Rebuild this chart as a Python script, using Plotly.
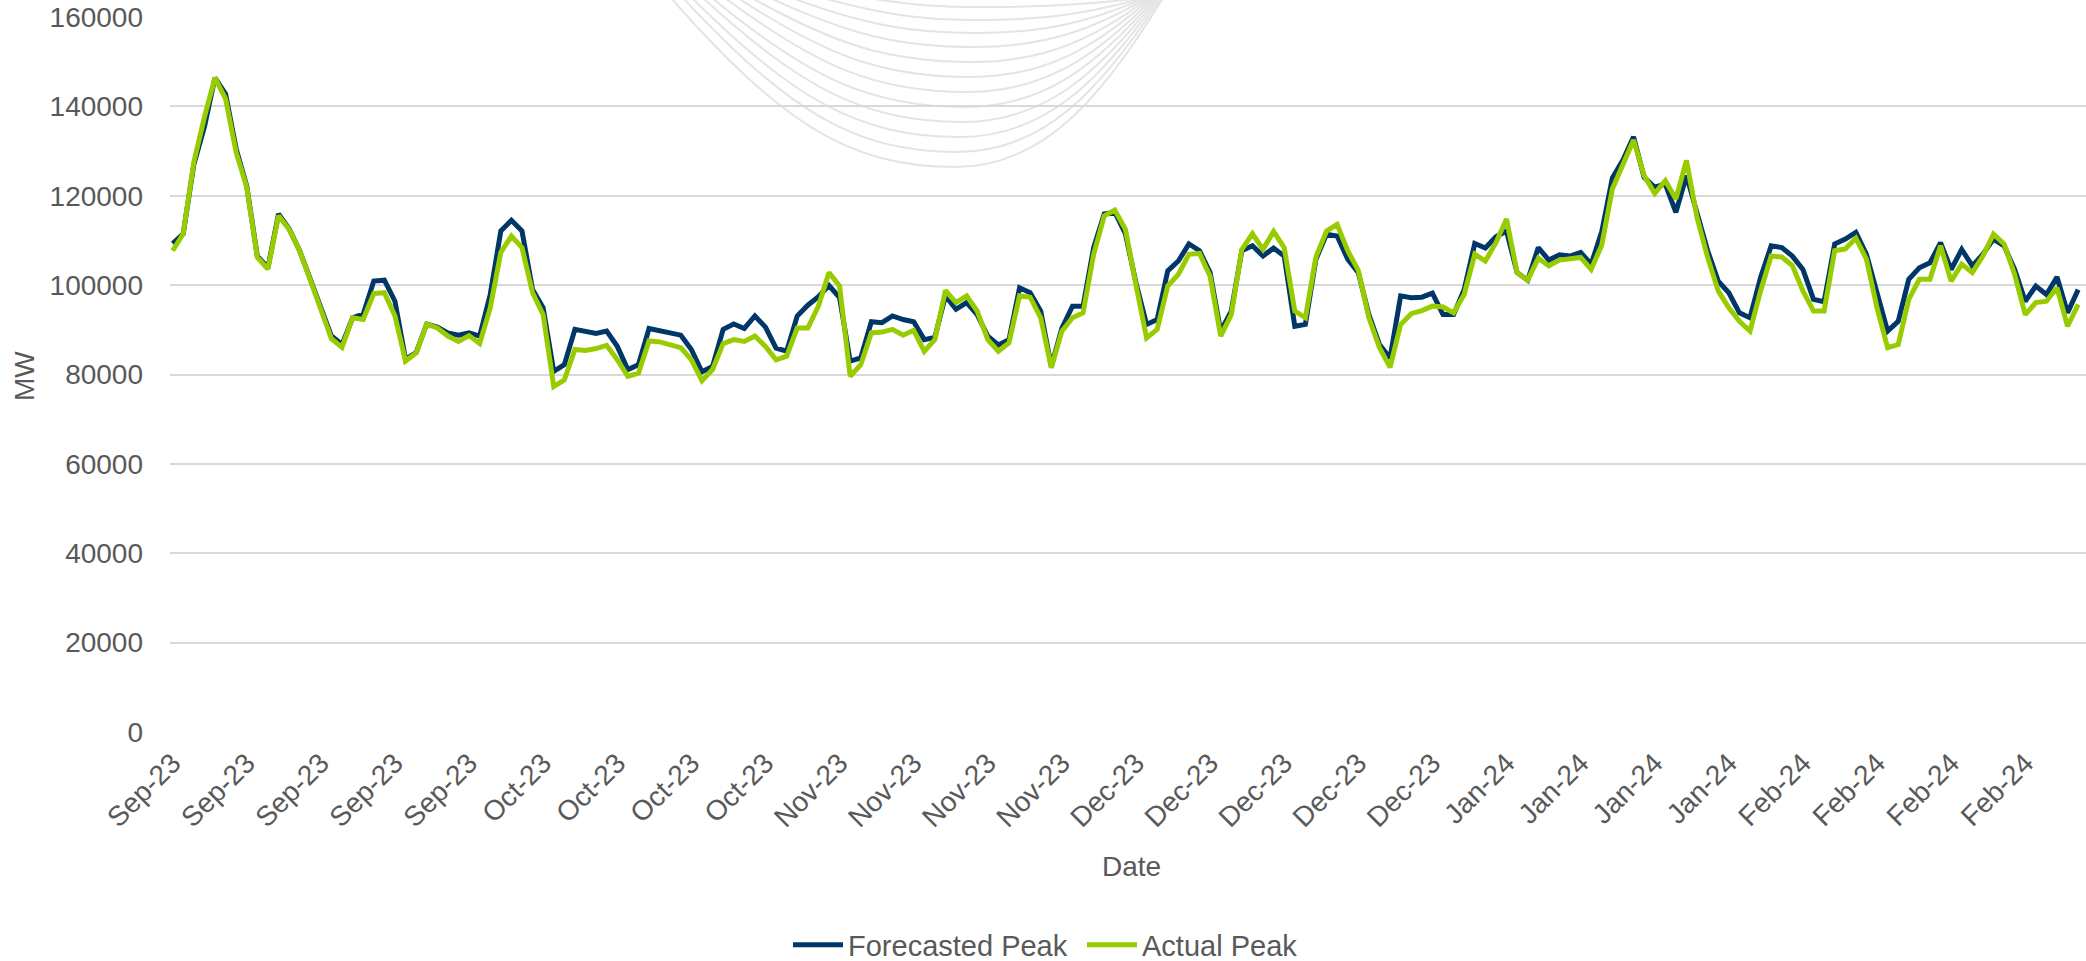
import plotly.graph_objects as go
import datetime as dt

# ---------------- data ----------------
start_date = dt.date(2023, 9, 1)
forecasted_peak = [
    109300, 111500, 127000, 135400, 146400, 142800, 130500, 122200, 106500, 103900,
    115900, 112600, 107700, 101500, 95000, 88600, 86700, 92700, 93500, 100900,
    101100, 96400, 83400, 84900, 91300, 90600, 89300, 88800, 89300, 88600,
    97900, 112100, 114500, 112100, 99000, 94900, 80700, 82200, 90100, 89700,
    89200, 89700, 86300, 81100, 82200, 90300, 89800, 89500, 88800, 85600,
    80600, 81800, 90100, 91300, 90300, 93100, 90600, 85900, 85200, 93100,
    95500, 97400, 99900, 97200, 83000, 83700, 91800, 91600, 93100, 92300,
    91800, 87800, 88300, 97600, 94600, 96100, 93400, 88600, 86600, 87800,
    99400, 98300, 94200, 81800, 90400, 95300, 95300, 108400, 115900, 116300,
    111500, 100500, 91200, 92300, 103200, 105400, 109200, 107700, 102800, 89700,
    94200, 107700, 108800, 106500, 108300, 106500, 90800, 91200, 105800, 111400,
    111000, 105800, 102800, 93400, 86700, 83700, 97600, 97200, 97300, 98200,
    93400, 93400, 99000, 109300, 108300, 110800, 112100, 102800, 101100, 108400,
    105600, 106800, 106500, 107300, 104700, 112000, 124000, 128000, 133200, 124100,
    121900, 122600, 116300, 124500, 115900, 107700, 100900, 98300, 93800, 92700,
    101700, 108800, 108400, 106500, 103500, 96800, 96300, 109200, 110300, 111800,
    106900, 97900, 89700, 91900, 101300, 103900, 105000, 109500, 103500, 108000,
    104300, 106900, 110300, 108800, 103500, 96400, 99800, 97900, 101800, 93800,
    99000,
]
actual_peak = [
    107700, 111500, 127500, 137600, 146400, 141700, 129700, 121900, 106200, 103600,
    115500, 112500, 107700, 101200, 94500, 88000, 86100, 92700, 92300, 98100,
    98300, 93100, 83000, 84800, 91300, 90400, 88600, 87400, 88700, 86900,
    94900, 107300, 111000, 108400, 98300, 93400, 77300, 78800, 85600, 85400,
    85800, 86500, 83300, 79600, 80300, 87500, 87300, 86600, 86000, 83300,
    78600, 81100, 86900, 87800, 87400, 88600, 86300, 83300, 84100, 90400,
    90400, 95300, 102800, 99800, 79600, 82200, 89300, 89500, 90100, 88800,
    89900, 85200, 87800, 98800, 96100, 97600, 94200, 87800, 85200, 87100,
    97600, 97300, 92700, 81500, 89700, 92700, 93800, 106900, 115500, 116800,
    112500, 100000, 88200, 90100, 99800, 102400, 106900, 107100, 102000, 88600,
    93400, 108000, 111500, 108000, 112000, 108400, 94200, 92700, 106300, 112100,
    113600, 107700, 103300, 92700, 86000, 81600, 91200, 93600, 94300, 95300,
    95100, 93800, 97900, 106900, 105400, 109500, 114800, 102800, 101100, 106000,
    104300, 105600, 105800, 106200, 103500, 109000, 121500, 127000, 132500, 124500,
    120500, 123400, 119300, 127900, 115100, 106200, 98700, 94900, 91900, 89700,
    98700, 106500, 106300, 104400, 98700, 94200, 94200, 107700, 108100, 110500,
    105800, 94900, 86000, 86700, 96800, 101300, 101300, 108800, 100900, 104700,
    102800, 106500, 111400, 109200, 102400, 93400, 96100, 96400, 99400, 90800,
    95700,
]
label_every = 7
y_ticks = [0, 20000, 40000, 60000, 80000, 100000, 120000, 140000, 160000]

dates = [start_date + dt.timedelta(days=i) for i in range(len(actual_peak))]
xs = list(range(len(dates)))
tick_idx = xs[::label_every]
tick_text = [dates[i].strftime("%b-%y") for i in tick_idx]

# ---------------- layout geometry (pixels) ----------------
W, H = 2086, 961
L, R, T, B = 170, 0, 17, 229
plot_w = W - L - R
plot_h = H - T - B

def px_to_paper(px, py):
    return (px - L) / plot_w, (H - B - py) / plot_h

FONT = "Liberation Sans, Arial, sans-serif"
GREY = "#595959"

fig = go.Figure()
fig.add_trace(go.Scatter(x=xs, y=forecasted_peak, mode="lines", name="Forecasted Peak",
                         line=dict(color="#003768", width=5)))
fig.add_trace(go.Scatter(x=xs, y=actual_peak, mode="lines", name="Actual Peak",
                         line=dict(color="#99CC00", width=5)))

# decorative watermark arcs (background)
shapes = []
lefts = [671, 683, 692, 703, 712, 725, 738, 752, 770, 792, 823, 868]
bottoms = [167, 152, 137, 122, 107, 92, 77, 62, 47, 33, 20, 7]
for k, (xl, yb) in enumerate(zip(lefts, bottoms)):
    xb = 955 + k * 2.5
    xr = 1163 - k * 2.0
    pts = [(xl, -2), (xl + 0.38 * (xb - xl), yb * 0.72), (xb - 0.38 * (xb - xl), yb), (xb, yb),
           (xb + 0.42 * (xr - xb), yb), (xr - 0.3 * (xr - xb), yb * 0.6), (xr, -2)]
    pp = [px_to_paper(a, b) for a, b in pts]
    path = "M {:.5f},{:.5f} C {:.5f},{:.5f} {:.5f},{:.5f} {:.5f},{:.5f} C {:.5f},{:.5f} {:.5f},{:.5f} {:.5f},{:.5f}".format(
        *pp[0], *pp[1], *pp[2], *pp[3], *pp[4], *pp[5], *pp[6])
    shapes.append(dict(type="path", path=path, xref="paper", yref="paper",
                       line=dict(color="#e4e4e4", width=2), layer="below"))

fig.update_layout(
    width=W, height=H,
    margin=dict(l=L, r=R, t=T, b=B, pad=0, autoexpand=False),
    paper_bgcolor="white", plot_bgcolor="white",
    font=dict(family=FONT, size=28, color=GREY),
    showlegend=True,
    legend=dict(orientation="h", x=px_to_paper(788, 0)[0], xanchor="left",
                y=px_to_paper(0, 945)[1], yanchor="middle",
                font=dict(size=29, color=GREY), itemwidth=50, traceorder="normal",
                entrywidth=229, entrywidthmode="pixels"),
    shapes=shapes,
    annotations=[
        dict(text="Date", xref="paper", yref="paper", x=px_to_paper(1131, 0)[0], y=px_to_paper(0, 866)[1],
             showarrow=False, xanchor="center", yanchor="middle", font=dict(size=28, color=GREY)),
        dict(text="MW", xref="paper", yref="paper", x=px_to_paper(24, 0)[0], y=px_to_paper(0, 376)[1],
             showarrow=False, xanchor="center", yanchor="middle", textangle=-90,
             font=dict(size=28, color=GREY)),
    ],
)
fig.update_xaxes(range=[-0.25, 180.74], tickmode="array", tickvals=tick_idx, ticktext=tick_text,
                 tickangle=-45, showgrid=False, zeroline=False, showline=False, ticks="",
                 tickfont=dict(size=28, color=GREY), ticklabelstandoff=8)
fig.update_yaxes(range=[0, 160000], tickmode="array", tickvals=y_ticks,
                 ticktext=[str(v) for v in y_ticks], showgrid=True, gridcolor="#d9d9d9", gridwidth=2,
                 zeroline=False, showline=False, ticks="", tickfont=dict(size=28, color=GREY),
                 ticklabelstandoff=26)

fig.write_html("out.html", config={"displayModeBar": False},
               post_script="document.body.style.margin='0';document.body.style.overflow='hidden';")
